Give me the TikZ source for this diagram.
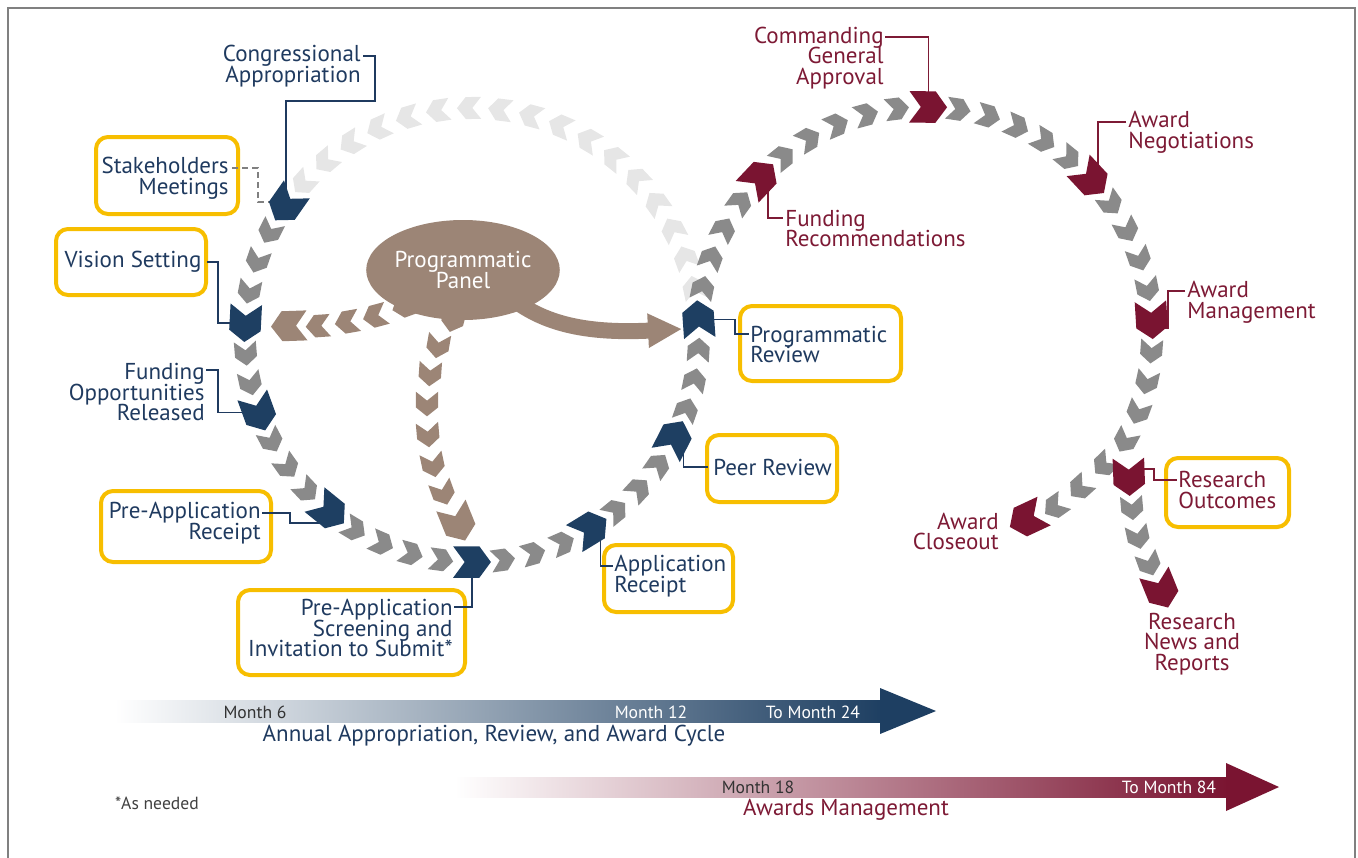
\documentclass[tikz,border=0pt]{standalone}
\usepackage{fontspec}
\setmainfont{PT Sans}
\usetikzlibrary{calc,shapes.geometric,arrows.meta}
\definecolor{navyC}{HTML}{1E3F62}
\definecolor{navyT}{HTML}{1F3A5F}
\definecolor{maroonC}{HTML}{7A1431}
\definecolor{maroonT}{HTML}{7D1A35}
\definecolor{grayC}{HTML}{8A8A8A}
\definecolor{lightC}{HTML}{E6E6E6}
\definecolor{tanC}{HTML}{9C8576}
\definecolor{goldC}{HTML}{F7BE00}
\definecolor{frameC}{HTML}{808080}
\newcommand\labfont{\fontsize{11.5}{10.4}\selectfont\lineskiplimit=-20pt\lineskip=0pt}
\newcommand\smallfont{\fontsize{8.8}{10}\selectfont}
\newcommand\mychev[4]{%
  \begin{scope}[shift={#1}, rotate={-(#2)}, scale=#3]
    \fill[#4] (-11,-10) -- (3,-10) -- (11,0) -- (3,10) -- (-11,10) -- (-3,0) -- cycle;
  \end{scope}}
\newcommand\mykey[4]{%
  \begin{scope}[shift={#1}, rotate={-(#2)}, scale=#3]
    \fill[#4] (-18,-15) -- (7,-15) -- (18,0) -- (7,15) -- (-18,15) -- (-7,0) -- cycle;
  \end{scope}}
\begin{document}
\begin{tikzpicture}[x=0.5pt,y=-0.5pt,
  tx/.style={text=#1, font=\labfont, inner sep=0pt},
  ybox/.style 2 args={draw=goldC, line width=2pt, rounded corners=6pt, minimum width=#1*0.5pt, minimum height=#2*0.5pt, inner sep=0pt},
  nline/.style={draw=navyT, line width=0.65pt},
  mline/.style={draw=maroonT, line width=0.65pt}]
\useasboundingbox (0,0) rectangle (1358,857);
\draw[frameC, line width=1pt] (8,880) -- (8,8) -- (1355,8) -- (1355,880);

% circle centres
\coordinate (L) at (472,335);
\coordinate (R) at (925,334);
% key chevron positions
\coordinate (kCong) at ($(L)+(215:227)$);
\coordinate (kVis) at ($(L)+(183:227)$);
\coordinate (kFund) at ($(L)+(160:227)$);
\coordinate (kPre) at ($(L)+(129:227)$);
\coordinate (kScr) at ($(L)+(90:227)$);
\coordinate (kApp) at ($(L)+(58.6:227)$);
\coordinate (kPeer) at ($(L)+(27:227)$);
\coordinate (kProg) at ($(L)+(-4:227)$);
\coordinate (kFR) at ($(R)+(223.4:227)$);
\coordinate (kCmd) at ($(R)+(270.8:227)$);
\coordinate (kNeg) at ($(R)+(317:227)$);
\coordinate (kMgmt) at ($(R)+(356.5:227)$);
\coordinate (kOut) at (1129,477);
\coordinate (kClose) at (1027,519);
\coordinate (kNews) at (1161,590);

% yellow boxes
\node[ybox={142}{77}] (bStake) at (167,175.5) {};
\node[ybox={150}{66}] (bVis) at (131,262) {};
\node[ybox={170}{71}] (bPre) at (186,526.5) {};
\node[ybox={227}{85}] (bScr) at (351.5,632.5) {};
\node[ybox={129}{67}] (bApp) at (668.5,578.5) {};
\node[ybox={130}{67}] (bPeer) at (772,468.5) {};
\node[ybox={161}{75}] (bProg) at (820.5,343.5) {};
\node[ybox={123}{69}] (bOut) at (1227.5,492.5) {};

% connectors
\draw[nline] (363,56) -| (375,101) -| (kCong);
\draw[draw=frameC, line width=0.6pt, dash pattern=on 3pt off 2pt] (232,168) -| (258,202) -- (272,202);
\draw[nline] (207,262) -- (218,262) |- (kVis);
\draw[nline] (206,370) -- (218,370) |- (kFund);
\draw[nline] (262,513) -| (290,523) -- (322,523);
\draw[nline] (454,607) -| (kScr);
\draw[nline] ($(kApp)+(10,0)$) |- (613,566);
\draw[nline] ($(kPeer)+(9,0)$) |- (708,467);
\draw[nline] (kProg) -| (735,334) -- (749,334);
\draw[mline] (885,37) -| (kCmd);
\draw[mline] ($(kFR)+(8,0)$) |- (783,218);
\draw[mline] (1126,122) -| ($(kNeg)+(7,0)$);
\draw[mline] (1185,291) -| (1168,328) -- (1155,328);
\draw[mline] (1140,469) -| (1154,480) -- (1177,480);

% light grey return path on the left circle
\foreach \i in {0,...,16}{%
  \pgfmathsetmacro\a{-12-7.875*\i}
  \mychev{($(L)+(\a:227)$)}{\a-90}{1.1}{lightC}}
% left circle grey chevrons
\foreach \a in {207,199,191,175.3,167.7,152.25,144.5,136.75,121.2,113.4,105.6,97.8,82.15,74.3,66.45,50.7,42.8,34.9,19.25,11.5,3.75}{%
  \mychev{($(L)+(\a:227)$)}{\a-90}{1.1}{grayC}}
% right circle grey chevrons
\foreach \a in {191.7,199.6,207.5,215.5,231.3,239.2,247.1,255,262.9,278.5,286.2,293.9,301.6,309.3,324.9,332.8,340.7,348.6,364.4,372.3,380.2,388.1}{%
  \mychev{($(R)+(\a:227)$)}{\a+90}{1.1}{grayC}}
% branches
\mychev{(1104,465)}{136}{1.1}{grayC}
\mychev{(1080,488)}{138}{1.1}{grayC}
\mychev{(1055,507)}{145}{1.1}{grayC}
\mychev{(1132,508)}{85}{1.1}{grayC}
\mychev{(1138,537)}{78}{1.1}{grayC}
\mychev{(1149,564)}{70}{1.1}{grayC}

% key chevrons
\foreach \k/\d in {kCong/125,kVis/93,kFund/70,kPre/39,kScr/0,kApp/-31.4,kPeer/-63,kProg/-94}{%
  \mykey{(\k)}{\d}{1.05}{navyC}}
\foreach \k/\d in {kFR/313.4,kCmd/360.8,kNeg/407,kMgmt/446.5}{%
  \mykey{(\k)}{\d}{1.05}{maroonC}}
\mykey{(kOut)}{88}{1.05}{maroonC}
\mykey{(kClose)}{155}{1.05}{maroonC}
\mykey{(kNews)}{68}{1.05}{maroonC}

% tan paths from the panel
\mychev{(404,306)}{160}{1.12}{tanC}
\mychev{(375,316)}{165}{1.12}{tanC}
\mychev{(347,322)}{170}{1.12}{tanC}
\mychev{(318,326)}{176}{1.12}{tanC}
\mykey{(289,326)}{178}{1}{tanC}
\mychev{(453,320)}{105}{1.12}{tanC}
\mychev{(438,346)}{100}{1.12}{tanC}
\mychev{(430,374)}{94}{1.12}{tanC}
\mychev{(427,404)}{90}{1.12}{tanC}
\mychev{(428,435)}{85}{1.12}{tanC}
\mychev{(433,465)}{78}{1.12}{tanC}
\mychev{(443,493)}{70}{1.12}{tanC}
\mykey{(458,523)}{68}{1.05}{tanC}
\coordinate (panelOut) at (500,288);
\coordinate (progIn) at (682,329);
\draw[tanC, line width=8pt, -{Triangle[length=17pt,width=16pt]}] (panelOut) .. controls (535,322) and (580,334) .. (progIn);
\node[ellipse, fill=tanC, minimum width=82pt, minimum height=50pt, inner sep=0pt, text=white, font=\labfont, align=center] (panel) at (463,270) {Programmatic\\Panel};

% labels
\node[tx=navyT, anchor=east, align=right] (tCong) at (361,66.5) {Congressional\\Appropriation};
\node[tx=navyT, anchor=east, align=right] (tStake) at (229,178.5) {Stakeholders\\Meetings};
\node[tx=navyT] (tVis) at (133,262) {Vision Setting};
\node[tx=navyT, anchor=east, align=right] (tFund) at (205,392) {Funding\\Opportunities\\Released};
\node[tx=navyT, anchor=east, align=right] (tPre) at (261,523) {Pre-Application\\Receipt};
\node[tx=navyT, anchor=east, align=right] (tScr) at (453,628) {Pre-Application\\Screening and\\Invitation to Submit*};
\node[tx=navyT, anchor=west, align=left] (tApp) at (614,576.5) {Application\\Receipt};
\node[tx=navyT, anchor=west] (tPeer) at (713,467) {Peer Review};
\node[tx=navyT, anchor=west, align=left] (tProg) at (750,344.5) {Programmatic\\Review};
\node[tx=maroonT, anchor=east, align=right] (tCmd) at (884,58) {Commanding\\General\\Approval};
\node[tx=maroonT, anchor=west, align=left] (tFR) at (785,228.5) {Funding\\Recommendations};
\node[tx=maroonT, anchor=west, align=left] (tNeg) at (1128,132.5) {Award\\Negotiations};
\node[tx=maroonT, anchor=west, align=left] (tMgmt) at (1187,302) {Award\\Management};
\node[tx=maroonT, anchor=west, align=left] (tOut) at (1178,490) {Research\\Outcomes};
\node[tx=maroonT, anchor=east, align=right] (tClose) at (999,531.5) {Award\\Closeout};
\node[tx=maroonT, align=center] (tNews) at (1192,644) {Research\\News and\\Reports};

% timeline arrows
\shade[left color=white, middle color=navyC!58, right color=navyC] (115,700) rectangle (882,722);
\fill[navyC] (880,688) -- (936,711) -- (880,734) -- cycle;
\shade[left color=white, middle color=maroonC!50, right color=maroonC] (455,777) rectangle (1228,797);
\fill[maroonC] (1226,763) -- (1279,787) -- (1226,811) -- cycle;
\node[font=\smallfont, text=black!80, inner sep=0pt] (m6) at (255,712) {Month 6};
\node[font=\smallfont, text=white, inner sep=0pt] (m12) at (651,712) {Month 12};
\node[font=\smallfont, text=white, inner sep=0pt] (m24) at (813,712) {To Month 24};
\node[font=\smallfont, text=black!80, inner sep=0pt] (m18) at (758,787) {Month 18};
\node[font=\smallfont, text=white, inner sep=0pt] (m84) at (1169,787) {To Month 84};
\node[tx=navyT] (cap1) at (494,736) {Annual Appropriation, Review, and Award Cycle};
\node[tx=maroonT] (cap2) at (846,810) {Awards Management};
\node[font=\smallfont, text=black!75, inner sep=0pt] (note) at (157,803) {*As needed};
\end{tikzpicture}
\end{document}
